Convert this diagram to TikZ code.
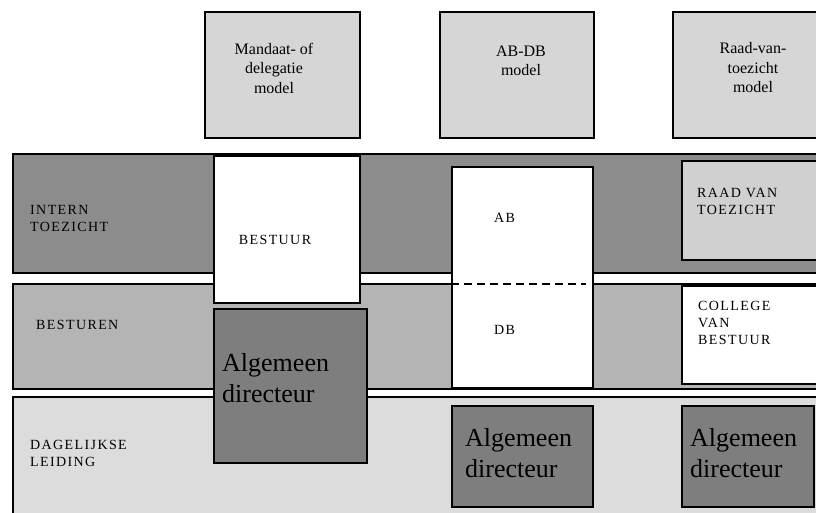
\documentclass[tikz,border=0pt]{standalone}
\usepackage{fontspec}
\setmainfont{Liberation Serif}
\newfontfamily\capsfont[LetterSpace=10]{Liberation Serif}
\definecolor{grijsdonker}{HTML}{8C8C8C}
\definecolor{grijsmidden}{HTML}{B4B4B4}
\definecolor{grijslicht}{HTML}{DCDCDC}
\definecolor{grijsmodel}{HTML}{D6D6D6}
\definecolor{grijsdir}{HTML}{7E7E7E}
\definecolor{grijsraad}{HTML}{D0D0D0}
\tikzset{
  bx/.style={draw=black, line width=1.6pt, anchor=north west, inner sep=0pt},
  lbl/.style={font=\capsfont\fontsize{14}{17}\selectfont, align=left, anchor=west, inner sep=0pt},
  mdl/.style={font=\fontsize{16}{19.5}\selectfont, align=center, inner sep=0pt},
  dir/.style={font=\fontsize{26}{31}\selectfont, align=left, anchor=west, inner sep=0pt},
}
\begin{document}
\begin{tikzpicture}[x=1pt, y=-1pt]
      \useasboundingbox (0,0) rectangle (816,513);
      % modellen
      \node[bx, fill=grijsmodel, minimum width=155pt, minimum height=126pt] (mandaat) at (204,11) {};
      \node[bx, fill=grijsmodel, minimum width=154pt, minimum height=126pt] (abdbmodel) at (439,11) {};
      \node[bx, fill=grijsmodel, minimum width=160pt, minimum height=126pt] (raadmodel) at (672,11) {};
      \node[mdl] (mandaattxt) at (274,68) {Mandaat- of\\delegatie\\model};
      \node[mdl] (abdbtxt) at (521,61) {AB-DB\\model};
      \node[mdl] (raadtxt) at (753,68) {Raad-van-\\toezicht\\model};
      % lagen
      \node[bx, fill=grijsdonker, minimum width=820pt, minimum height=119pt] (intern) at (12,153) {};
      \node[bx, fill=grijsmidden, minimum width=820pt, minimum height=105pt] (besturen) at (12,283) {};
      \node[bx, fill=grijslicht, minimum width=820pt, minimum height=130pt] (leiding) at (12,396) {};
      \node[lbl] (interntxt) at (30,218) {INTERN\\TOEZICHT};
      \node[lbl] (besturentxt) at (36,325) {BESTUREN};
      \node[lbl] (leidingtxt) at (30,453) {DAGELIJKSE\\LEIDING};
      % organen
      \node[bx, fill=white, minimum width=146pt, minimum height=147pt] (bestuur) at (213,155) {};
      \node[lbl, anchor=center] (bestuurtxt) at (275,240) {BESTUUR};
      \node[bx, fill=white, minimum width=141pt, minimum height=221pt] (abdb) at (451,166) {};
      \node[lbl] (abtxt) at (494,218) {AB};
      \node[lbl] (dbtxt) at (494,330) {DB};
      \coordinate (scheidL) at (451,284);
      \coordinate (scheidR) at (586,284);
      \draw[line width=1.6pt, dash pattern=on 8pt off 5pt] (scheidL) -- (scheidR);
      \node[bx, fill=grijsraad, minimum width=150pt, minimum height=99pt] (raad) at (681,160) {};
      \node[lbl] (raadtxt2) at (697,201) {RAAD VAN\\TOEZICHT};
      \node[bx, fill=white, minimum width=150pt, minimum height=98pt] (college) at (681,285) {};
      \node[lbl] (collegetxt) at (698,323) {COLLEGE\\VAN\\BESTUUR};
      % directeuren
      \node[bx, fill=grijsdir, minimum width=153pt, minimum height=154pt] (dirA) at (213,308) {};
      \node[bx, fill=grijsdir, minimum width=141pt, minimum height=101pt] (dirB) at (451,405) {};
      \node[bx, fill=grijsdir, minimum width=132pt, minimum height=101pt] (dirC) at (681,405) {};
      \node[dir] (dirAtxt) at (222,378) {Algemeen\\directeur};
      \node[dir] (dirBtxt) at (465,453) {Algemeen\\directeur};
      \node[dir] (dirCtxt) at (690,453) {Algemeen\\directeur};
    \end{tikzpicture}
\end{document}
